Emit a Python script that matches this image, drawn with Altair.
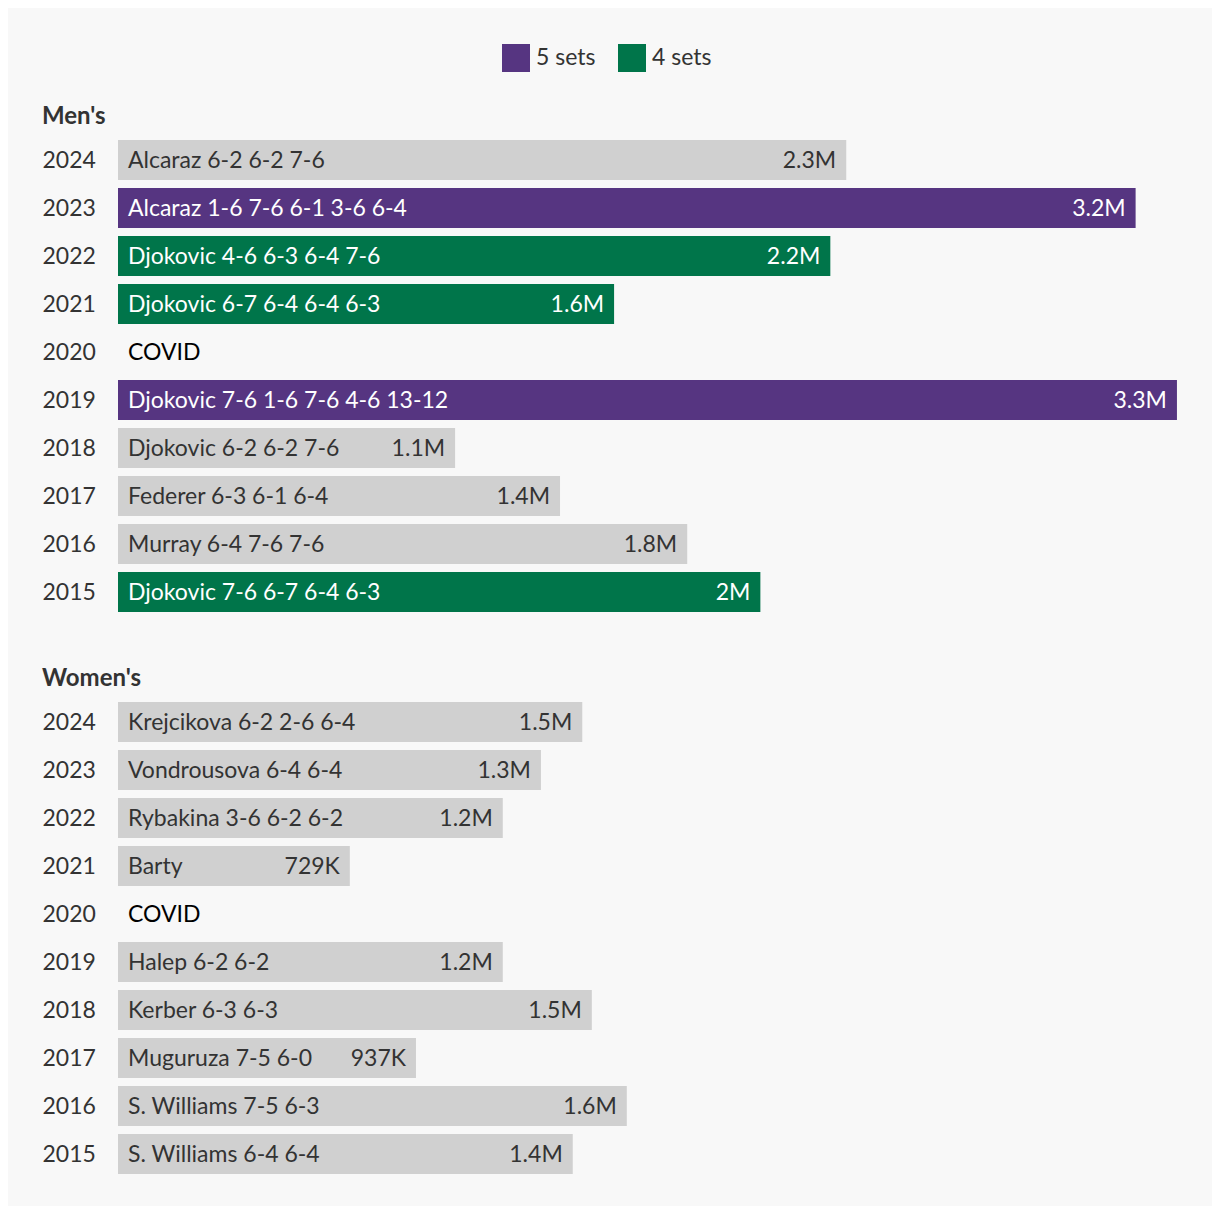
import altair as alt
import pandas as pd

years = ["2024", "2023", "2022", "2021", "2020", "2019", "2018", "2017", "2016", "2015"]

men_desc = ["Alcaraz 6-2 6-2 7-6", "Alcaraz 1-6 7-6 6-1 3-6 6-4", "Djokovic 4-6 6-3 6-4 7-6",
            "Djokovic 6-7 6-4 6-4 6-3", "COVID", "Djokovic 7-6 1-6 7-6 4-6 13-12",
            "Djokovic 6-2 6-2 7-6", "Federer 6-3 6-1 6-4", "Murray 6-4 7-6 7-6",
            "Djokovic 7-6 6-7 6-4 6-3"]
men_values = [2.29, 3.20, 2.24, 1.56, None, 3.33, 1.06, 1.39, 1.79, 2.02]
men_labels = ["2.3M", "3.2M", "2.2M", "1.6M", "", "3.3M", "1.1M", "1.4M", "1.8M", "2M"]
men_sets = ["3 sets", "5 sets", "4 sets", "4 sets", None, "5 sets", "3 sets", "3 sets", "3 sets", "4 sets"]

women_desc = ["Krejcikova 6-2 2-6 6-4", "Vondrousova 6-4 6-4", "Rybakina 3-6 6-2 6-2", "Barty",
              "COVID", "Halep 6-2 6-2", "Kerber 6-3 6-3", "Muguruza 7-5 6-0",
              "S. Williams 7-5 6-3", "S. Williams 6-4 6-4"]
women_values = [1.46, 1.33, 1.21, 0.729, None, 1.21, 1.49, 0.937, 1.60, 1.43]
women_labels = ["1.5M", "1.3M", "1.2M", "729K", "", "1.2M", "1.5M", "937K", "1.6M", "1.4M"]
women_sets = ["3 sets", "3 sets", "3 sets", "3 sets", None, "3 sets", "3 sets", "3 sets", "3 sets", "3 sets"]

set_domain = ["5 sets", "4 sets", "3 sets"]
set_colors = ["#563581", "#00754a", "#d0d0d0"]

FONT = "Lato"
TXT = "#333333"
FS = 23


def panel(title, desc, values, labels, sets):
    df = pd.DataFrame({"year": years, "desc": desc, "value": values,
                       "label": labels, "sets": sets})
    base = alt.Chart(df).encode(
        y=alt.Y("year:N", sort=years,
                scale=alt.Scale(paddingInner=1 / 6, paddingOuter=1 / 12),
                axis=alt.Axis(title=None, domain=False, ticks=False, labelAlign="left",
                              labelPadding=76, labelFontSize=FS, labelFont=FONT,
                              labelColor=TXT, labelBaseline="middle", labelOffset=1))
    )
    xenc = alt.X("value:Q", scale=alt.Scale(domain=[0, 3.3333], nice=False, zero=True), axis=None)
    bars = base.mark_bar().encode(
        x=xenc,
        color=alt.Color("sets:N", scale=alt.Scale(domain=set_domain, range=set_colors),
                        legend=alt.Legend(values=["5 sets", "4 sets"], title=None,
                                          orient="none", direction="horizontal",
                                          legendX=384, legendY=-92,
                                          symbolType="square", symbolSize=784,
                                          symbolStrokeWidth=0, symbolOpacity=1,
                                          labelFontSize=FS, labelFont=FONT,
                                          labelColor=TXT, labelOffset=6,
                                          columnPadding=22)),
    )
    text_color = alt.value(TXT, condition=[
        {"test": "datum.sets == '5 sets' || datum.sets == '4 sets'", "value": "#ffffff"},
        {"test": "datum.sets == null", "value": "#000000"},
    ])
    desc_text = base.mark_text(align="left", baseline="middle", dy=1, fontSize=FS, font=FONT).encode(
        x=alt.value(10), text="desc:N", color=text_color)
    val_text = base.mark_text(align="right", baseline="middle", dx=-10, dy=1, fontSize=FS, font=FONT).encode(
        x=xenc, text="label:N", color=text_color)
    return alt.layer(bars, desc_text, val_text).properties(
        width=1060, height=480,
        title=alt.TitleParams(title, anchor="start", frame="bounds", fontSize=24, font=FONT,
                              fontWeight="bold", color=TXT, offset=7),
    )


men = panel("Men's", men_desc, men_values, men_labels, men_sets)
women = panel("Women's", women_desc, women_values, women_labels, women_sets)

chart = alt.vconcat(men, women, spacing=51).properties(
    background="#f8f8f8",
    padding={"left": 34, "top": 36, "right": 34, "bottom": 28},
).configure_view(stroke=None)

chart.save("out.html", embed_options={"renderer": "svg", "actions": False})
